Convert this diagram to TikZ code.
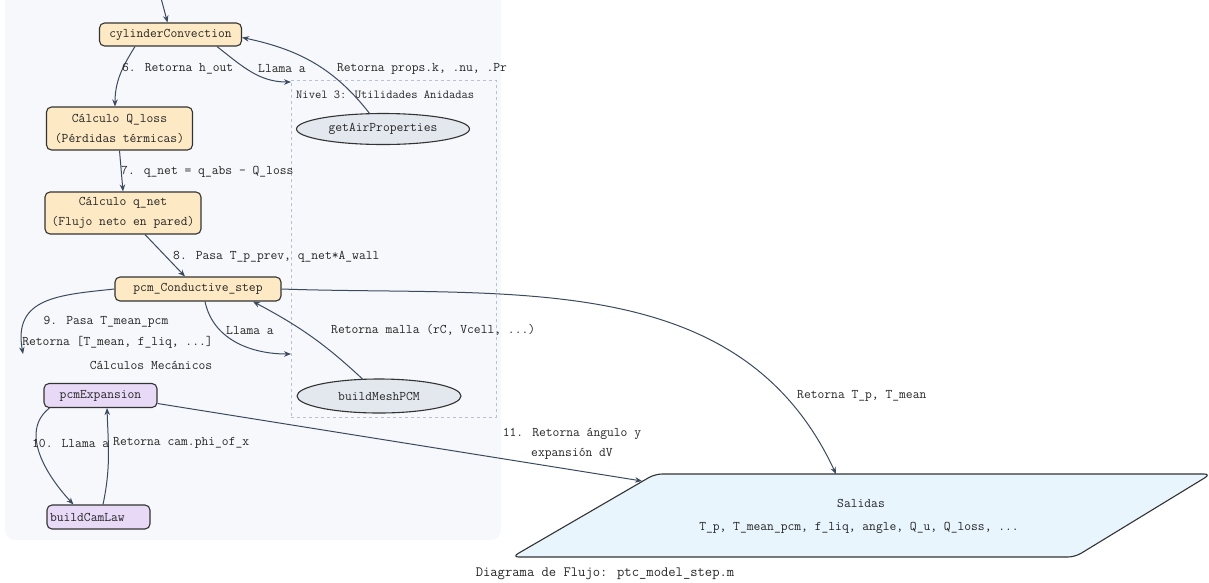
\documentclass[tikz,border=0pt]{standalone}
\usepackage{fontspec}
\usetikzlibrary{arrows.meta,calc,shapes.geometric}

\definecolor{edgecol}{HTML}{3C4A5E}
\definecolor{boxline}{HTML}{333333}
\definecolor{stepfill}{HTML}{FDE9C4}
\definecolor{mechfill}{HTML}{E8D9F7}
\definecolor{utilfill}{HTML}{E3E8EF}
\definecolor{outfill}{HTML}{E8F5FD}
\definecolor{clusterbg}{HTML}{F6F8FB}
\definecolor{dashcol}{HTML}{B8C2CF}

\tikzset{
  txt/.style={font=\ttfamily\fontsize{13.2}{20}\selectfont, text=black!85},
  procbox/.style={txt, draw=boxline, line width=1.1pt, rounded corners=5pt,
    align=center, inner sep=2pt},
  stepbox/.style={procbox, fill=stepfill},
  mechbox/.style={procbox, fill=mechfill},
  utilnode/.style={txt, ellipse, draw=boxline, line width=1.1pt, fill=utilfill, inner sep=0pt},
  flow/.style={draw=edgecol, line width=1pt, -{Stealth[length=7pt,width=5.5pt]}},
  elabel/.style={txt, inner sep=0pt},
}

\begin{document}
\begin{tikzpicture}[x=1pt,y=1pt]
\useasboundingbox (0,0) rectangle (1209,-582);

% background of the main cluster
\begin{scope}
  \clip (0,0) rectangle (1209,-582);
  \fill[clusterbg, rounded corners=10pt] (5,12) rectangle (501,-540);
\end{scope}

% nested utilities cluster
\node[draw=dashcol, dashed, line width=0.6pt, minimum width=205pt, minimum height=337pt,
      inner sep=0pt, anchor=north west] (niv3) at (291,-80) {};
\node[txt, font=\ttfamily\fontsize{12.2}{14}\selectfont, anchor=west, inner sep=0pt] (niv3lbl) at (296,-95) {Nivel 3: Utilidades Anidadas};

% process nodes
\node[stepbox, minimum width=142pt, minimum height=23pt] (cyl) at (170.5,-34.5) {cylinderConvection};
\node[stepbox, minimum width=146pt, minimum height=43pt] (qloss) at (119.5,-128.5) {Cálculo Q\_loss\\(Pérdidas térmicas)};
\node[stepbox, minimum width=156pt, minimum height=42pt] (qnet) at (123,-213) {Cálculo q\_net\\(Flujo neto en pared)};
\node[stepbox, minimum width=166pt, minimum height=24pt] (pcm) at (198,-289) {pcm\_Conductive\_step};
\node[mechbox, minimum width=113pt, minimum height=24pt] (pcmexp) at (100.5,-395.5) {pcmExpansion};
\node[mechbox, minimum height=24pt, text width=97pt, align=left, inner xsep=3pt] (cam) at (98.5,-517) {buildCamLaw};

% nested utilities
\node[utilnode, minimum width=173pt, minimum height=31pt] (air) at (383,-129) {getAirProperties};
\node[utilnode, minimum width=164pt, minimum height=34pt] (mesh) at (379,-396) {buildMeshPCM};

% outputs (parallelogram)
\coordinate (otl) at (655,-474);
\coordinate (otr) at (1211,-474);
\coordinate (obr) at (1075,-557);
\coordinate (obl) at (512,-557);
\draw[fill=outfill, draw=boxline, line width=1.1pt, rounded corners=7pt]
  (otl) -- (otr) -- (obr) -- (obl) -- cycle;
\node[txt] (outtitle) at (861,-503) {Salidas};
\node[txt] (outlist) at (859,-528) {T\_p, T\_mean\_pcm, f\_liq, angle, Q\_u, Q\_loss, ...};
\coordinate (outtop) at (836,-474);
\coordinate (outleft) at (642,-481);

% entry and target points
\coordinate (entry) at (161,2);
\coordinate (mech) at (23,-354);

% connectors
\draw[flow] (entry) -- ([xshift=-3pt]cyl.north);
\draw[flow] ([xshift=-35.5pt]cyl.south) to[out=238, in=90] ([xshift=-4.5pt]qloss.north);
\draw[flow] ([xshift=46.5pt]cyl.south) to[out=-38, in=180] ([yshift=-2pt]niv3.north west);
\draw[flow] ([xshift=-13pt,yshift=-1pt]air.north) to[out=128, in=-12] ([yshift=-3pt]cyl.east);
\draw[flow] (qloss.south) -- (qnet.north);
\draw[flow] ([xshift=22pt]qnet.south) -- ([xshift=-13pt]pcm.north);
\draw[flow] (pcm.west) to[out=186, in=100, looseness=1.3] (mech);
\draw[flow] ([xshift=7pt]pcm.south) to[out=-78, in=180] ([yshift=-274pt]niv3.north west);
\draw[flow] ([xshift=-16pt,yshift=-1pt]mesh.north) to[out=137, in=-28] ([xshift=55pt]pcm.south);
\draw[flow] (pcm.east) to[out=-2, in=115] (outtop);
\draw[flow] ([xshift=6pt]pcmexp.south west) to[out=218, in=133] ([xshift=27pt]cam.north west);
\draw[flow] ([xshift=4.5pt]cam.north) to[out=78, in=-88] ([xshift=6.5pt]pcmexp.south);
\draw[flow] ([yshift=-8pt]pcmexp.east) -- (outleft);

% connector labels
\node[elabel, anchor=west] (l6) at (122,-69) {6. Retorna h\_out};
\node[elabel] (lcall1) at (282,-69) {Llama a};
\node[elabel] (lair) at (422,-69) {Retorna props.k, .nu, .Pr};
\node[elabel, anchor=west] (l7) at (121,-172) {7. q\_net = q\_abs - Q\_loss};
\node[elabel, anchor=west] (l8) at (173,-257) {8. Pasa T\_p\_prev, q\_net*A\_wall};
\node[elabel] (l9a) at (106,-322) {9. Pasa T\_mean\_pcm};
\node[elabel] (l9b) at (117.5,-342) {Retorna [T\_mean, f\_liq, ...]};
\node[elabel] (lcall2) at (250,-330) {Llama a};
\node[elabel, anchor=west] (lmesh) at (331,-330) {Retorna malla (rC, Vcell, ...)};
\node[elabel] (lmechttl) at (151,-365) {Cálculos Mecánicos};
\node[elabel, anchor=west] (l10) at (32,-443) {10. Llama a};
\node[elabel, anchor=west] (lcam) at (113,-443) {Retorna cam.phi\_of\_x};
\node[elabel, anchor=west] (lret) at (797,-396) {Retorna T\_p, T\_mean};
\node[elabel, align=center] (l11) at (572,-443.5) {11. Retorna ángulo y\\expansión dV};

% caption
\node[txt, font=\ttfamily\fontsize{14.2}{16}\selectfont] (caption) at (605,-574) {Diagrama de Flujo: ptc\_model\_step.m};
\end{tikzpicture}
\end{document}
